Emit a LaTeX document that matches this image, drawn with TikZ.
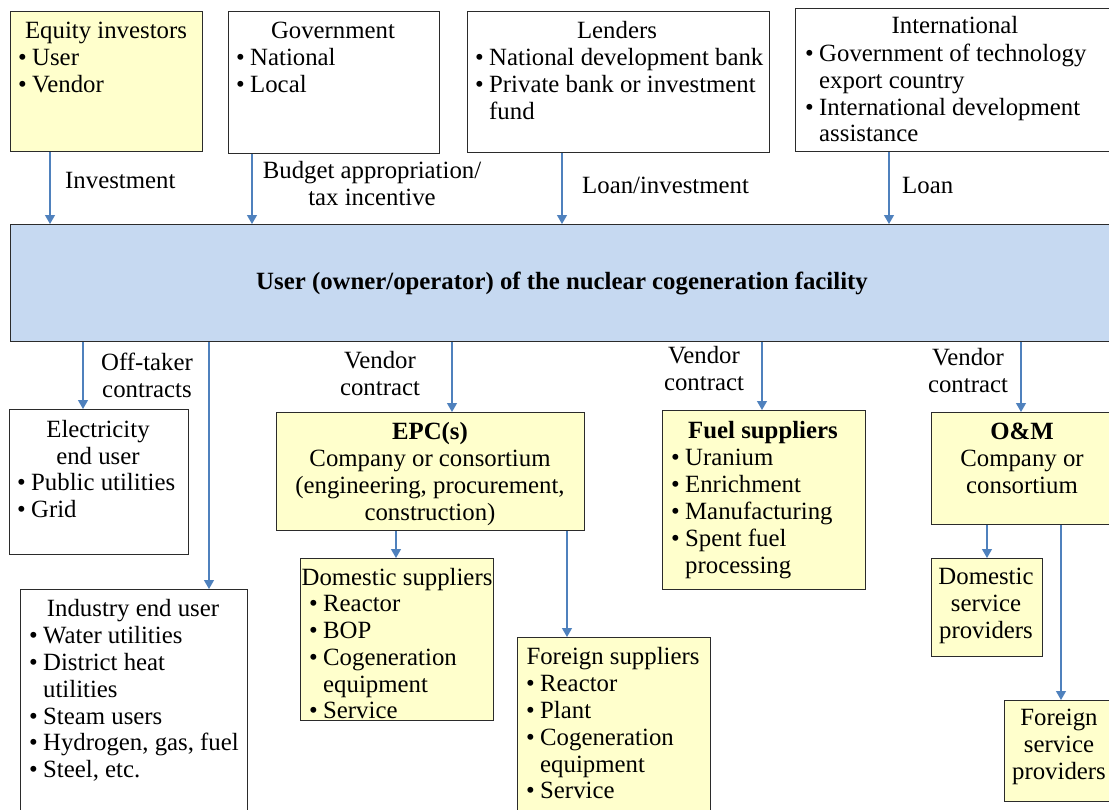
\documentclass[tikz,border=0pt]{standalone}
\usepackage{fontspec}
\setmainfont{Liberation Serif}
\usetikzlibrary{arrows.meta}
\definecolor{boxyellow}{HTML}{FFFFCC}
\definecolor{mainblue}{HTML}{C6D9F1}
\definecolor{arrowblue}{HTML}{4F81BD}
\definecolor{edge}{HTML}{2B2B2B}
\newcommand\bl{\makebox[14pt][l]{•}}
\tikzset{
  box/.style={draw=edge, line width=1.3pt, fill=white, inner sep=0pt, anchor=north west},
  ybox/.style={box, fill=boxyellow},
  mainbox/.style={box, fill=mainblue},
  txt/.style={inner sep=0pt, font=\fontsize{24.8}{27}\selectfont},
  btxt/.style={txt, font=\fontsize{24.8}{27}\selectfont\bfseries},
  c/.style={txt, anchor=base},
  l/.style={txt, anchor=base west},
  arr/.style={draw=arrowblue, line width=1.2pt, -{Triangle[width=10pt,length=9pt]}}
}
\begin{document}
\begin{tikzpicture}[x=1pt,y=-1pt]
\useasboundingbox (0,0) rectangle (1109,809);
\clip (0,0) rectangle (1109,809);

% ---------- funding sources ----------
\node[ybox, minimum width=192pt, minimum height=140pt] (eq) at (10,11) {};
\node[c] (eq1) at (106,38) {Equity investors};
\node[l] (eq2) at (18,65) {\bl User};
\node[l] (eq3) at (18,92) {\bl Vendor};

\node[box, minimum width=211pt, minimum height=142pt] (gov) at (228,11) {};
\node[c] (gov1) at (333,38) {Government};
\node[l] (gov2) at (236,65) {\bl National};
\node[l] (gov3) at (236,92) {\bl Local};

\node[box, minimum width=302pt, minimum height=141pt] (len) at (467,11) {};
\node[c] (len1) at (617,38) {Lenders};
\node[l] (len2) at (475,65) {\bl National development bank};
\node[l] (len3) at (475,92) {\bl Private bank or investment};
\node[l] (len4) at (489,119) {fund};

\node[box, minimum width=330pt, minimum height=143pt] (intl) at (795,8) {};
\node[c] (intl1) at (955,33) {International};
\node[l] (intl2) at (805,61) {\bl Government of technology};
\node[l] (intl3) at (819,88) {export country};
\node[l] (intl4) at (805,115) {\bl International development};
\node[l] (intl5) at (819,141) {assistance};

% ---------- central user ----------
\node[mainbox, minimum width=1120pt, minimum height=117pt] (main) at (10,224) {};
\node[btxt, anchor=base] (mainT) at (562,289)
  {User (owner/operator) of the nuclear cogeneration facility};

% ---------- funding arrows ----------
\draw[arr] ([xshift=40pt]eq.south west) -- ([xshift=40pt]eq.south west |- main.north);
\node[l] (lbInv) at (65,188) {Investment};
\draw[arr] ([xshift=24pt]gov.south west) -- ([xshift=24pt]gov.south west |- main.north);
\node[c] (lbBud1) at (372,178) {Budget appropriation/};
\node[c] (lbBud2) at (372,205) {tax incentive};
\draw[arr] ([xshift=95pt]len.south west) -- ([xshift=95pt]len.south west |- main.north);
\node[l] (lbLoanInv) at (582,193) {Loan/investment};
\draw[arr] ([xshift=94pt]intl.south west) -- ([xshift=94pt]intl.south west |- main.north);
\node[l] (lbLoan) at (902,193) {Loan};

% ---------- off-takers ----------
\node[box, minimum width=179pt, minimum height=145pt] (elec) at (9,409) {};
\node[c] (elec1) at (98,437) {Electricity};
\node[c] (elec2) at (98,464) {end user};
\node[l] (elec3) at (17,490) {\bl Public utilities};
\node[l] (elec4) at (17,517) {\bl Grid};

\node[box, minimum width=227pt, minimum height=240pt] (ind) at (20,589) {};
\node[c] (ind1) at (133,616) {Industry end user};
\node[l] (ind2) at (29,643) {\bl Water utilities};
\node[l] (ind3) at (29,670) {\bl District heat};
\node[l] (ind4) at (43,697) {utilities};
\node[l] (ind5) at (29,724) {\bl Steam users};
\node[l] (ind6) at (29,750) {\bl Hydrogen, gas, fuel};
\node[l] (ind7) at (29,777) {\bl Steel, etc.};

\draw[arr] ([xshift=73pt]main.south west) -- ([xshift=73pt]main.south west |- elec.north);
\draw[arr] ([xshift=199pt]main.south west) -- ([xshift=199pt]main.south west |- ind.north);
\node[c] (lbOff1) at (147,370) {Off-taker};
\node[c] (lbOff2) at (147,397) {contracts};

% ---------- EPC ----------
\node[ybox, minimum width=308pt, minimum height=118pt] (epc) at (276,412) {};
\node[btxt, anchor=base] (epc1) at (430,439) {EPC(s)};
\node[c] (epc2) at (430,466) {Company or consortium};
\node[c] (epc3) at (430,493) {(engineering, procurement,};
\node[c] (epc4) at (430,520) {construction)};
\draw[arr] ([xshift=442pt]main.south west) -- ([xshift=442pt]main.south west |- epc.north);
\node[c] (lbV1a) at (380,368) {Vendor};
\node[c] (lbV1b) at (380,395) {contract};

\node[ybox, minimum width=193pt, minimum height=162pt] (dom) at (300,558) {};
\node[c] (dom1) at (397,585) {Domestic suppliers};
\node[l] (dom2) at (309,611) {\bl Reactor};
\node[l] (dom3) at (309,638) {\bl BOP};
\node[l] (dom4) at (309,665) {\bl Cogeneration};
\node[l] (dom5) at (323,692) {equipment};
\node[l] (dom6) at (309,718) {\bl Service};

\node[ybox, minimum width=193pt, minimum height=200pt] (for) at (517,637) {};
\node[c] (for1) at (613,664) {Foreign suppliers};
\node[l] (for2) at (526,691) {\bl Reactor};
\node[l] (for3) at (526,718) {\bl Plant};
\node[l] (for4) at (526,745) {\bl Cogeneration};
\node[l] (for5) at (540,772) {equipment};
\node[l] (for6) at (526,798) {\bl Service};

\draw[arr] ([xshift=120pt]epc.south west) -- ([xshift=120pt]epc.south west |- dom.north);
\draw[arr] ([xshift=291pt]epc.south west) -- ([xshift=291pt]epc.south west |- for.north);

% ---------- fuel ----------
\node[ybox, minimum width=203pt, minimum height=179pt] (fuel) at (662,410) {};
\node[btxt, anchor=base] (fuel1) at (763,438) {Fuel suppliers};
\node[l] (fuel2) at (671,465) {\bl Uranium};
\node[l] (fuel3) at (671,492) {\bl Enrichment};
\node[l] (fuel4) at (671,519) {\bl Manufacturing};
\node[l] (fuel5) at (671,546) {\bl Spent fuel};
\node[l] (fuel6) at (685,573) {processing};
\draw[arr] ([xshift=752pt]main.south west) -- ([xshift=752pt]main.south west |- fuel.north);
\node[c] (lbV2a) at (704,363) {Vendor};
\node[c] (lbV2b) at (704,390) {contract};

% ---------- O&M ----------
\node[ybox, minimum width=190pt, minimum height=112pt] (om) at (931,412) {};
\node[btxt, anchor=base] (om1) at (1022,439) {O\&M};
\node[c] (om2) at (1022,466) {Company or};
\node[c] (om3) at (1022,493) {consortium};
\draw[arr] ([xshift=1011pt]main.south west) -- ([xshift=1011pt]main.south west |- om.north);
\node[c] (lbV3a) at (968,365) {Vendor};
\node[c] (lbV3b) at (968,392) {contract};

\node[ybox, minimum width=111pt, minimum height=98pt] (dsp) at (931,558) {};
\node[c] (dsp1) at (986,584) {Domestic};
\node[c] (dsp2) at (986,611) {service};
\node[c] (dsp3) at (986,638) {providers};

\node[ybox, minimum width=120pt, minimum height=101pt] (fsp) at (1004,700) {};
\node[c] (fsp1) at (1059,725) {Foreign};
\node[c] (fsp2) at (1059,752) {service};
\node[c] (fsp3) at (1059,779) {providers};

\draw[arr] ([xshift=56pt]om.south west) -- ([xshift=56pt]om.south west |- dsp.north);
\draw[arr] ([xshift=130pt]om.south west) -- ([xshift=130pt]om.south west |- fsp.north);
\end{tikzpicture}
\end{document}
